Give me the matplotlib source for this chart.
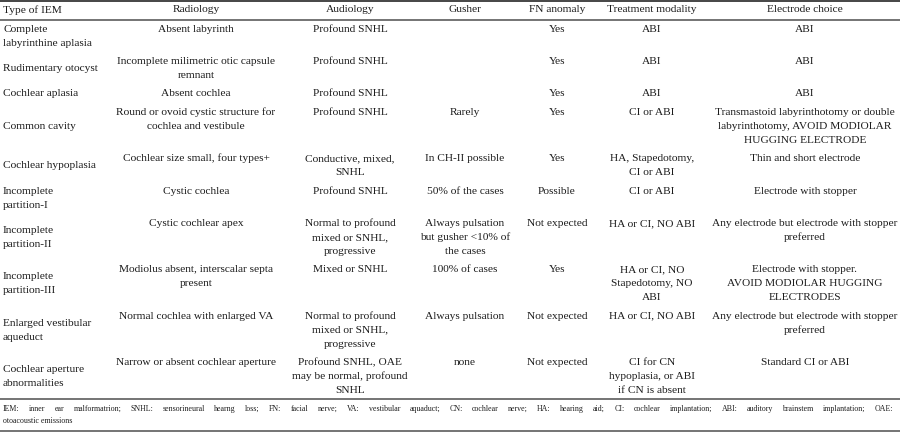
import matplotlib
matplotlib.use("Agg")
import matplotlib.pyplot as plt

# ---------------- data ----------------
headers = ["Type of IEM", "Radiology", "Audiology", "Gusher", "FN anomaly",
           "Treatment modality", "Electrode choice"]

iem_type = [["Complete", "labyrinthine aplasia"], ["Rudimentary otocyst"], ["Cochlear aplasia"],
            ["Common cavity"], ["Cochlear hypoplasia"], ["Incomplete", "partition-I"],
            ["Incomplete", "partition-II"], ["Incomplete", "partition-III"],
            ["Enlarged vestibular", "aqueduct"], ["Cochlear aperture", "abnormalities"]]

radiology = [["Absent labyrinth"], ["Incomplete milimetric otic capsule", "remnant"],
             ["Absent cochlea"], ["Round or ovoid cystic structure for", "cochlea and vestibule"],
             ["Cochlear size small, four types+"], ["Cystic cochlea"], ["Cystic cochlear apex"],
             ["Modiolus absent, interscalar septa", "present"], ["Normal cochlea with enlarged VA"],
             ["Narrow or absent cochlear aperture"]]

audiology = [["Profound SNHL"], ["Profound SNHL"], ["Profound SNHL"], ["Profound SNHL"],
             ["Conductive, mixed,", "SNHL"], ["Profound SNHL"],
             ["Normal to profound", "mixed or SNHL,", "progressive"], ["Mixed or SNHL"],
             ["Normal to profound", "mixed or SNHL,", "progressive"],
             ["Profound SNHL, OAE", "may be normal, profound", "SNHL"]]

gusher = [[], [], [], ["Rarely"], ["In CH-II possible"], ["50% of the cases"],
          ["Always pulsation", "but gusher <10% of", "the cases"], ["100% of cases"],
          ["Always pulsation"], ["none"]]

fn_anomaly = [["Yes"], ["Yes"], ["Yes"], ["Yes"], ["Yes"], ["Possible"], ["Not expected"],
              ["Yes"], ["Not expected"], ["Not expected"]]

treatment = [["ABI"], ["ABI"], ["ABI"], ["CI or ABI"], ["HA, Stapedotomy,", "CI or ABI"],
             ["CI or ABI"], ["HA or CI, NO ABI"], ["HA or CI, NO", "Stapedotomy, NO", "ABI"],
             ["HA or CI, NO ABI"], ["CI for CN", "hypoplasia, or ABI", "if CN is absent"]]

electrode = [["ABI"], ["ABI"], ["ABI"],
             ["Transmastoid labyrinthotomy or double", "labyrinthotomy, AVOID MODIOLAR",
              "HUGGING ELECTRODE"],
             ["Thin and short electrode"], ["Electrode with stopper"],
             ["Any electrode but electrode with stopper", "preferred"],
             ["Electrode with stopper.", "AVOID MODIOLAR HUGGING", "ELECTRODES"],
             ["Any electrode but electrode with stopper", "preferred"],
             ["Standard CI or ABI"]]

footer_line1 = ("IEM: inner ear malformatrion; SNHL: sensorineural hearng loss; FN: facial nerve; "
                "VA: vestibular aquaduct; CN: cochlear nerve; HA: hearing aid; CI: cochlear "
                "implantation; ABI: auditory brainstem implantation; OAE:")
footer_line2 = "otoacoustic emissions"

# ---------------- layout ----------------
W, H = 900, 433
col_centers = [None, 196, 350, 465, 557, 652, 805]
left_x = 3
header_y = 10
first_line_y = 29
last_line_y = 390.6
line_h = 14.0
text_color = "#1c1c1c"
line_color = "#4a4a4a"
family = "Liberation Serif"

fig = plt.figure(figsize=(W / 100, H / 100), dpi=100)
ax = fig.add_axes([0, 0, 1, 1])
ax.set_xlim(0, W)
ax.set_ylim(H, 0)
ax.axis("off")
renderer = fig.canvas.get_renderer()


def text_width(s, size):
    t = ax.text(0, 0, s, fontsize=size, family=family)
    w = t.get_window_extent(renderer).width
    t.remove()
    return w


# font size fitted to the reference text width
fs = 10 * 180.0 / text_width("Transmastoid labyrinthotomy or double", 10)
fs_foot = 10 * 69.0 / text_width("otoacoustic emissions", 10)

columns = [iem_type, radiology, audiology, gusher, fn_anomaly, treatment, electrode]
nrows = len(iem_type)
nlines = [max(len(c[i]) for c in columns) for i in range(nrows)]
inner = sum(n - 1 for n in nlines)
gap = (last_line_y - first_line_y - inner * line_h) / (nrows - 1)

# header
ax.text(left_x, header_y, headers[0], fontsize=fs, family=family, color=text_color,
        ha="left", va="center")
for j in range(1, 7):
    ax.text(col_centers[j], header_y, headers[j], fontsize=fs, family=family,
            color=text_color, ha="center", va="center")

y = first_line_y
for i in range(nrows):
    span = (nlines[i] - 1) * line_h
    # first column: vertically centered in the row
    lines = iem_type[i]
    y0 = y + (span - (len(lines) - 1) * line_h) / 2
    for k, s in enumerate(lines):
        ax.text(left_x, y0 + k * line_h, s, fontsize=fs, family=family, color=text_color,
                ha="left", va="center")
    for j in range(1, 7):
        for k, s in enumerate(columns[j][i]):
            ax.text(col_centers[j], y + k * line_h, s, fontsize=fs, family=family,
                    color=text_color, ha="center", va="center")
    y += span + gap

# rules
lw = 0.72
ax.axhline(1.0, color=line_color, lw=2 * lw)
ax.axhline(19.5, color=line_color, lw=1.5 * lw)
ax.axhline(399, color=line_color, lw=1.5 * lw)
ax.axhline(430.5, color=line_color, lw=1.5 * lw)

# footer (justified first line)
words = footer_line1.split(" ")
widths = [text_width(w, fs_foot) for w in words]
x_left, x_right = 3, 893
space = (x_right - x_left - sum(widths)) / (len(words) - 1)
x = x_left
for w, wd in zip(words, widths):
    ax.text(x, 409, w, fontsize=fs_foot, family=family, color=text_color,
            ha="left", va="center")
    x += wd + space
ax.text(x_left, 421, footer_line2, fontsize=fs_foot, family=family, color=text_color,
        ha="left", va="center")

fig.savefig("out.png", dpi=100, facecolor="white")
